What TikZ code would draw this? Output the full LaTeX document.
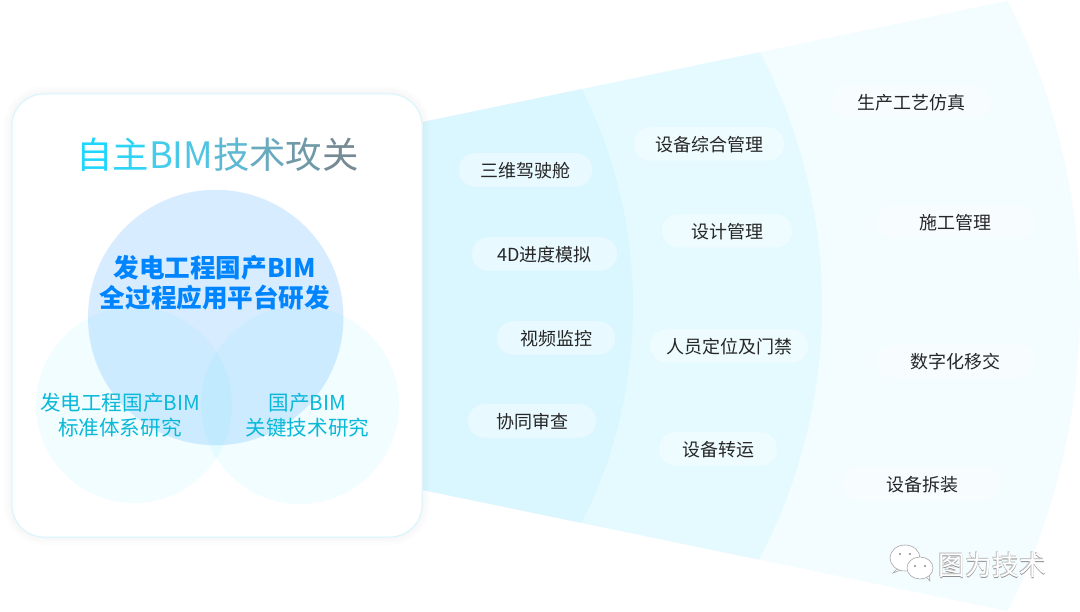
\documentclass[tikz,border=0pt]{standalone}
\usepackage{fontspec}
\setmainfont{Noto Sans CJK SC}
\usepackage{tikz}
\definecolor{fanone}{HTML}{DAF6FF}
\definecolor{fantwo}{HTML}{E4FAFF}
\definecolor{fanthree}{HTML}{F3FDFF}
\definecolor{cardline}{HTML}{D6F5FF}
\definecolor{bigcircle}{HTML}{D8ECFF}
\definecolor{smallcircle}{HTML}{45E8FF}
\definecolor{boldblue}{HTML}{0085FF}
\definecolor{subcyan}{HTML}{0AB8D8}
\tikzset{
  pillbox/.style={fill=white, fill opacity=.4, rounded corners=16.5pt, minimum height=33.5pt, inner sep=0pt},
  pilltext/.style={inner sep=0pt, text=black!85, font=\fontsize{18pt}{20pt}\selectfont},
  smallball/.style={fill=smallcircle, fill opacity=.075},
  maintext/.style={inner sep=0pt, align=center, text=boldblue, font=\fontsize{25.6pt}{30pt}\selectfont\bfseries},
  subtext/.style={inner sep=0pt, align=center, text=subcyan, font=\fontsize{20.6pt}{25pt}\selectfont},
  marktext/.style={inner sep=0pt, font=\fontsize{27pt}{30pt}\selectfont},
  markbubble/.style={fill=white, draw=black!35, line width=.6pt}
}
\begin{document}
\begin{tikzpicture}[x=1pt,y=-1pt]
\useasboundingbox (0,0) rectangle (1080,612);
\fill[white] (0,0) rectangle (1080,612);
\begin{scope}
\clip (423,122) -- (1200,-39) -- (1200,651) -- (423,490) -- cycle;
\fill[fanthree] (402,306) circle (678);
\fill[fantwo] (278.5,305) circle (543.5);
\fill[fanone] (150,306) circle (483);
\end{scope}
\foreach \w in {16,12,8,4}
  \draw[black, opacity=.007, line width=\w pt] (12,94) [rounded corners=32pt] rectangle (422,537);
\draw[cardline, fill=white, line width=1pt, rounded corners=32pt] (12,94) rectangle (422,537);
\fill[bigcircle] (215.7,317.5) circle (127.7);
\fill[smallball] (134,405) circle (98);
\fill[smallball] (300,405) circle (99);
\node[inner sep=0pt, font=\fontsize{36.4pt}{40pt}\selectfont] (title) at (217.5,155)
  {\textcolor[HTML]{1FD6FF}{自}\textcolor[HTML]{2FD3F5}{主}\textcolor[HTML]{45CCEB}{B}\textcolor[HTML]{4AC8E6}{I}\textcolor[HTML]{50C4E0}{M}\textcolor[HTML]{5DB8D2}{技}\textcolor[HTML]{6AAABF}{术}\textcolor[HTML]{7099A8}{攻}\textcolor[HTML]{758A94}{关}};
\node[maintext] (platform) at (215,282.5) {发电工程国产BIM\\全过程应用平台研发};
\node[subtext] (standard) at (120,415) {发电工程国产BIM\\标准体系研究};
\node[subtext] (keytech) at (307.5,415) {国产BIM\\关键技术研究};
\node[pillbox, minimum width=133pt] (cockpit) at (525.5,170) {};
\node[pilltext] (cockpittext) at (525.5,171) {三维驾驶舱};
\node[pillbox, minimum width=145pt] (schedule) at (544.5,254) {};
\node[pilltext] (scheduletext) at (544.5,255) {4D进度模拟};
\node[pillbox, minimum width=118pt] (video) at (556,338) {};
\node[pilltext] (videotext) at (556,339) {视频监控};
\node[pillbox, minimum width=128pt] (review) at (532,421) {};
\node[pilltext] (reviewtext) at (532.5,422) {协同审查};
\node[pillbox, minimum width=150pt] (equipment) at (709,144) {};
\node[pilltext] (equipmenttext) at (709,145) {设备综合管理};
\node[pillbox, minimum width=130pt] (design) at (727,231) {};
\node[pilltext] (designtext) at (727.5,232) {设计管理};
\node[pillbox, minimum width=158pt] (staff) at (729,346) {};
\node[pilltext] (stafftext) at (729,347) {人员定位及门禁};
\node[pillbox, minimum width=118pt] (transport) at (718,449) {};
\node[pilltext] (transporttext) at (718.5,450) {设备转运};
\node[pillbox, minimum width=159pt] (process) at (911.5,102) {};
\node[pilltext] (processtext) at (911.5,103) {生产工艺仿真};
\node[pillbox, minimum width=158pt] (construction) at (956,222) {};
\node[pilltext] (constructiontext) at (955.5,223) {施工管理};
\node[pillbox, minimum width=158pt] (handover) at (956,361) {};
\node[pilltext] (handovertext) at (955.5,362) {数字化移交};
\node[pillbox, minimum width=158pt] (dismantle) at (922,483.5) {};
\node[pilltext] (dismantletext) at (922.5,484.5) {设备拆装};
\draw[markbubble] (898,568) -- (893,573) -- (901,570);
\fill[markbubble] (905,558) ellipse (15 and 13);
\draw[markbubble] (926,577) -- (930,581) -- (929,575);
\fill[markbubble] (920,568) ellipse (13 and 11);
\foreach \x/\y in {900/554,910/554,915/566,925/566}
  \fill[black!45] (\x,\y) circle (1.2);
\node[marktext, text=black!45] (markshadowa) at (992.8,565.8) {图为技术};
\node[marktext, text=black!25] (markshadowb) at (991.4,564.4) {图为技术};
\node[marktext, text=white] (marktext) at (992,565) {图为技术};
\end{tikzpicture}
\end{document}
